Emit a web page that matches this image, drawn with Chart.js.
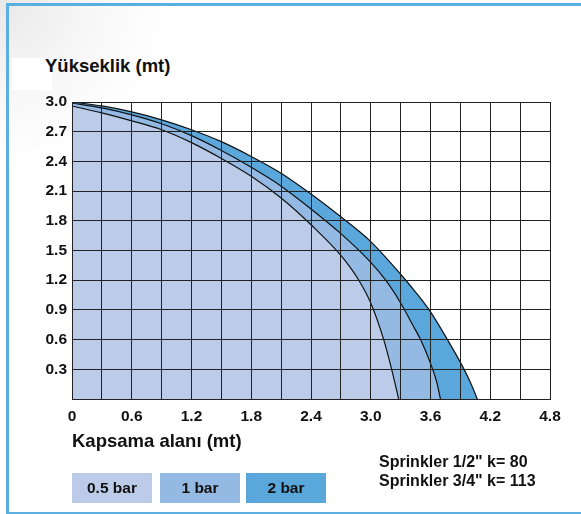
<!DOCTYPE html>
<html>
<head>
<meta charset="utf-8">
<script src="https://cdn.jsdelivr.net/npm/chart.js@4.4.1/dist/chart.umd.min.js"></script>
<style>
    html, body { margin: 0; padding: 0; }
    body {
        width: 581px; height: 514px; position: relative; overflow: hidden;
        background: radial-gradient(circle at 0 0, #e8e8e8 0px, #f7f7f7 90px, #ffffff 170px);
        font-family: "Liberation Sans", Arial, Helvetica, sans-serif;
    }
    .frame { position: absolute; left: 6px; top: 3px; width: 600px; height: 506px; border: 3px solid #5aaee0; border-right: none; }
    #wrap { position: absolute; left: 0; top: 0; width: 581px; height: 514px; }
    .txt { position: absolute; font-weight: bold; color: #111; white-space: nowrap; line-height: 1; }
    .box { position: absolute; top: 473px; width: 80px; height: 30px; display: flex; align-items: center; justify-content: center; font-weight: bold; font-size: 15.5px; color: #111; }
</style>
</head>
<body>
<div class="frame"></div>
<div class="txt" style="left:12px;top:58px;width:40px;height:32px;background:#fff;"></div>
<div class="txt" style="left:45px;top:57px;font-size:18.5px;">Yükseklik (mt)</div>
<div id="wrap"><canvas id="grafico" width="581" height="514"></canvas></div>
<div class="txt" style="left:72px;top:432px;font-size:18.5px;">Kapsama alanı (mt)</div>
<div class="txt" style="left:379px;top:454px;font-size:16px;">Sprinkler 1/2" k= 80</div>
<div class="txt" style="left:379px;top:473px;font-size:16px;">Sprinkler 3/4" k= 113</div>
<div id="legenda"></div>

<script>
// curvas (x = alcance, y = altura)
const bar05X = [0, 0.3, 0.6, 0.9, 1.2, 1.5, 1.8, 2.1, 2.4, 2.7, 2.88, 3.0, 3.13, 3.21, 3.28];
const bar05Y = [2.96, 2.89, 2.81, 2.72, 2.59, 2.43, 2.25, 2.03, 1.76, 1.45, 1.2, 0.97, 0.6, 0.3, 0];

const bar1X = [0, 0.3, 0.6, 0.9, 1.2, 1.5, 1.8, 2.1, 2.4, 2.7, 3.0, 3.15, 3.3, 3.42, 3.5, 3.6, 3.66, 3.7];
const bar1Y = [2.99, 2.94, 2.87, 2.78, 2.66, 2.51, 2.34, 2.15, 1.92, 1.67, 1.38, 1.2, 0.97, 0.75, 0.6, 0.36, 0.18, 0];

const bar2X = [0, 0.3, 0.6, 0.9, 1.2, 1.5, 1.8, 2.1, 2.4, 2.7, 3.0, 3.3, 3.45, 3.6, 3.77, 3.9, 4.0, 4.07];
const bar2Y = [3.0, 2.96, 2.9, 2.82, 2.72, 2.6, 2.45, 2.28, 2.07, 1.84, 1.59, 1.26, 1.08, 0.88, 0.6, 0.37, 0.17, 0];

const seriesNames  = ['0.5 bar', '1 bar', '2 bar'];
const seriesColors = ['#bccbe8', '#94bae4', '#5aa7dc'];

const xGrid = [0, 0.3, 0.6, 0.9, 1.2, 1.5, 1.8, 2.1, 2.4, 2.7, 3.0, 3.3, 3.6, 3.9, 4.2, 4.5, 4.8];
const xTickLabels = ['0', '', '0.6', '', '1.2', '', '1.8', '', '2.4', '', '3.0', '', '3.6', '', '4.2', '', '4.8'];
const yGrid = [0, 0.3, 0.6, 0.9, 1.2, 1.5, 1.8, 2.1, 2.4, 2.7, 3.0];
const yTickLabels = ['', '0.3', '0.6', '0.9', '1.2', '1.5', '1.8', '2.1', '2.4', '2.7', '3.0'];

const pares = (xs, ys) => xs.map((x, i) => ({ x, y: ys[i] }));
const series = [pares(bar05X, bar05Y), pares(bar1X, bar1Y), pares(bar2X, bar2Y)];

// legenda em caixas
const leg = document.getElementById('legenda');
const boxLeft = [72, 160, 246];
seriesNames.forEach((n, i) => {
    leg.innerHTML += '<div class="box" style="left:' + boxLeft[i] + 'px;background:' + seriesColors[i] + ';">' + n + '</div>';
});

const tickFont = { family: '"Liberation Sans", Arial, sans-serif', size: 15.5, weight: 'bold' };

new Chart(document.getElementById('grafico').getContext('2d'), {
    type: 'line',
    data: {
        datasets: series.map((d, i) => ({
            label: seriesNames[i],
            data: d,
            borderColor: '#111',
            borderWidth: 1.2,
            backgroundColor: seriesColors[i],
            fill: 'origin',
            pointRadius: 0,
            cubicInterpolationMode: 'monotone'
        }))
    },
    options: {
        responsive: false,
        animation: false,
        devicePixelRatio: 1,
        layout: { padding: { left: 0, top: 102, right: 31, bottom: 0 } },
        plugins: { legend: { display: false }, tooltip: { enabled: false } },
        scales: {
            x: {
                type: 'linear', min: 0, max: 4.8,
                afterBuildTicks: s => { s.ticks = xGrid.map(v => ({ value: v })); },
                afterFit: s => { s.height = 115; },
                ticks: { autoSkip: false, maxRotation: 0, padding: 8, color: '#111', font: tickFont,
                         callback: (v, i) => xTickLabels[i] },
                grid: { color: '#222', lineWidth: 1, drawTicks: false, z: 1 },
                border: { color: '#222', width: 1, z: 1 }
            },
            y: {
                type: 'linear', min: 0, max: 3.0,
                afterBuildTicks: s => { s.ticks = yGrid.map(v => ({ value: v })); },
                afterFit: s => { s.width = 72; },
                ticks: { autoSkip: false, padding: 5, color: '#111', font: tickFont,
                         callback: (v, i) => yTickLabels[i] },
                grid: { color: '#222', lineWidth: 1, drawTicks: false, z: 1 },
                border: { color: '#222', width: 1, z: 1 }
            }
        }
    }
});
</script>
</body>
</html>
